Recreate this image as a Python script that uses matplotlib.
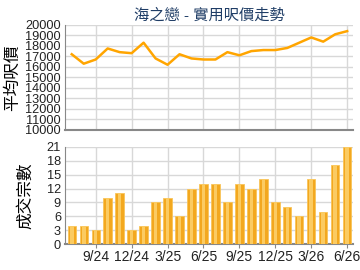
import matplotlib
matplotlib.use('Agg')
import matplotlib.pyplot as plt
import numpy as np

plt.rcParams['font.family'] = ['Liberation Sans', 'Noto Sans CJK TC', 'DejaVu Sans']

# datos
meses = ['7/24', '8/24', '9/24', '10/24', '11/24', '12/24', '1/25', '2/25', '3/25', '4/25',
         '5/25', '6/25', '7/25', '8/25', '9/25', '10/25', '11/25', '12/25', '1/26', '2/26',
         '3/26', '4/26', '5/26', '6/26']
precio = [17200, 16300, 16700, 17750, 17400, 17300, 18300, 16800, 16200, 17200,
          16800, 16700, 16700, 17400, 17100, 17500, 17600, 17600, 17800, 18300,
          18800, 18400, 19100, 19400]
volumen = [4, 4, 3, 10, 11, 3, 4, 9, 10, 6, 12, 13, 13, 9, 13, 12, 14, 9, 8, 6, 14, 7, 17, 21]
ticks_mostrados = ['9/24', '12/24', '3/25', '6/25', '9/25', '12/25', '3/26', '6/26']

x = np.arange(len(meses))
pos_ticks = [meses.index(m) for m in ticks_mostrados]

fig = plt.figure(figsize=(3.6, 2.7), dpi=100)
ax1 = fig.add_axes([0.181, 0.519, 0.8, 0.389])
ax2 = fig.add_axes([0.181, 0.096, 0.8, 0.36])

grid_c = '#d8d8d8'
spine_c = '#888888'

# grafico de linha
ax1.plot(x, precio, color='#FFA500', lw=1.8, zorder=3)
ax1.set_ylim(10000, 20000)
ax1.set_yticks(np.arange(10000, 20001, 1000))
ax1.set_xlim(-0.55, 23.5)
ax1.set_xticks(pos_ticks)
ax1.set_xticklabels([])
ax1.tick_params(axis='x', length=0)
ax1.set_ylabel('平均呎價', fontsize=12, family=['Noto Sans CJK TC'], labelpad=3)
ax1.set_title('海之戀 - 實用呎價走勢', fontsize=11, color='#1f3d66', pad=4)

# grafico de barras
ax2.bar(x, volumen, width=0.7, color='#F3A81F', edgecolor='#F8C45A', lw=0.6, zorder=3)
ax2.bar(x, volumen, width=0.3, color='#FBCB62', lw=0, zorder=4)
ax2.set_ylim(0, 21)
ax2.set_yticks(np.arange(0, 22, 3))
ax2.set_xlim(-0.55, 23.5)
ax2.set_xticks(pos_ticks)
ax2.set_xticklabels(ticks_mostrados)
ax2.tick_params(axis='x', length=3, color=spine_c)
ax2.set_ylabel('成交宗數', fontsize=12, family=['Noto Sans CJK TC'], labelpad=9)

for ax in (ax1, ax2):
    ax.grid(True, color=grid_c, lw=1, zorder=0)
    ax.set_axisbelow(True)
    ax.spines['top'].set_visible(False)
    ax.spines['right'].set_visible(False)
    ax.spines['left'].set_color(spine_c)
    ax.spines['bottom'].set_color(spine_c)
    ax.spines['bottom'].set_linewidth(1.5)
    ax.tick_params(axis='y', length=0, labelsize=9.2, colors='#222222', pad=3)
    ax.tick_params(axis='x', labelsize=10, labelcolor='#222222', pad=1)

fig.savefig('out.png', dpi=100)
